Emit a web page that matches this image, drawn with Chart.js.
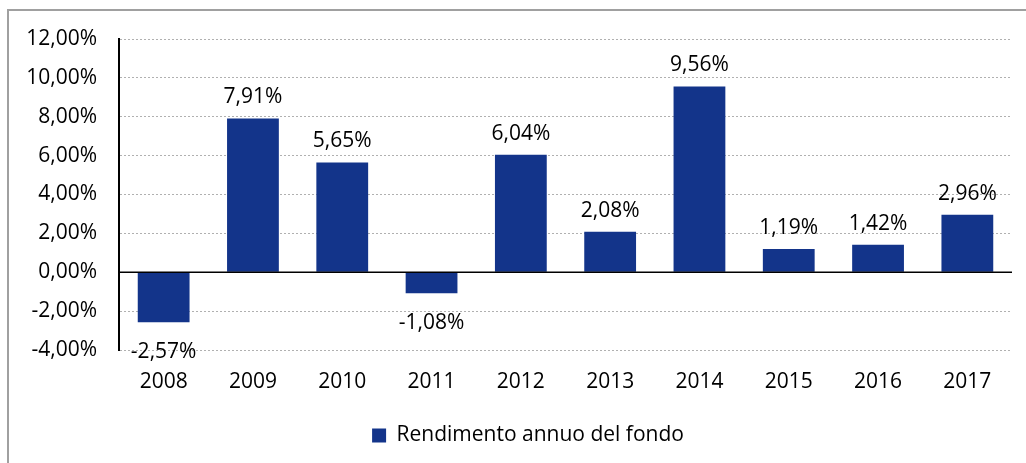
<!DOCTYPE html>
<html>
<head>
<meta charset="utf-8">
<script src="https://cdn.jsdelivr.net/npm/chart.js@4"></script>
<style>
  html, body { margin: 0; padding: 0; background: #fff; }
  #wrap { width: 1026px; height: 463px; position: relative; }
</style>
</head>
<body>
<div id="wrap"><canvas id="chart-returns"></canvas></div>
<script>
const years = ['2008', '2009', '2010', '2011', '2012', '2013', '2014', '2015', '2016', '2017'];
const returns = [-2.57, 7.91, 5.65, -1.08, 6.04, 2.08, 9.56, 1.19, 1.42, 2.96];
const seriesName = 'Rendimento annuo del fondo';

const FONT = 'Open Sans';
const FONT_SIZE = 21;
const BAR_COLOR = '#13348a';

function fmtPct(v, digits) {
    return v.toFixed(digits).replace('.', ',') + '%';
}

// outer frame, zero line and value labels
const extras = {
    id: 'extras',
    afterLayout(chart) {
        // legend sits a bit right of the canvas centre in the original
        chart.legend.left += 36;
    },
    beforeDraw(chart) {
        const ctx = chart.ctx;
        ctx.save();
        ctx.strokeStyle = '#a0a0a0';
        ctx.lineWidth = 2;
        ctx.beginPath();
        ctx.moveTo(8, chart.height);
        ctx.lineTo(8, 10);
        ctx.lineTo(chart.width, 10);
        ctx.stroke();
        ctx.restore();
    },
    afterDatasetsDraw(chart) {
        const ctx = chart.ctx;
        const area = chart.chartArea;
        const y0 = chart.scales.y.getPixelForValue(0);
        ctx.save();
        ctx.strokeStyle = '#000';
        ctx.lineWidth = 1.5;
        ctx.beginPath();
        ctx.moveTo(area.left, y0);
        ctx.lineTo(area.right, y0);
        ctx.stroke();

        ctx.fillStyle = '#000';
        ctx.font = FONT_SIZE + 'px "' + FONT + '"';
        ctx.textAlign = 'center';
        ctx.textBaseline = 'alphabetic';
        const meta = chart.getDatasetMeta(0);
        meta.data.forEach((bar, i) => {
            const v = returns[i];
            if (v >= 0) {
                ctx.fillText(fmtPct(v, 2), bar.x, bar.y - 15);
            } else {
                ctx.fillText(fmtPct(v, 2), bar.x, bar.y + 36);
            }
        });
        ctx.restore();
    },
};

new Chart(document.getElementById('chart-returns'), {
    type: 'bar',
    data: {
        labels: years,
        datasets: [{
            label: seriesName,
            data: returns,
            backgroundColor: BAR_COLOR,
            borderWidth: 0,
            barPercentage: 0.58,
            categoryPercentage: 1,
        }],
    },
    options: {
        responsive: true,
        maintainAspectRatio: false,
        animation: false,
        layout: { padding: { left: 8, right: 14, top: 39, bottom: 7 } },
        plugins: {
            legend: {
                position: 'bottom',
                labels: {
                    color: '#000',
                    font: { family: FONT, size: FONT_SIZE },
                    boxWidth: 14,
                    boxHeight: 14,
                    padding: 14,
                },
            },
            tooltip: { enabled: false },
        },
        scales: {
            x: {
                grid: { display: false },
                border: { display: false },
                afterFit: s => { s.height = 61; },
                ticks: {
                    color: '#000',
                    font: { family: FONT, size: FONT_SIZE },
                    padding: 11,
                },
            },
            y: {
                min: -4,
                max: 12,
                afterFit: s => { s.width = 111; },
                ticks: {
                    stepSize: 2,
                    color: '#000',
                    font: { family: FONT, size: FONT_SIZE },
                    padding: 22,
                    callback: v => fmtPct(v, 2),
                },
                grid: {
                    color: '#b0b0b0',
                    lineWidth: 1,
                    drawTicks: false,
                },
                border: { display: true, color: '#000', width: 2, dash: [2, 2] },
            },
        },
    },
    plugins: [extras],
});
</script>
</body>
</html>
